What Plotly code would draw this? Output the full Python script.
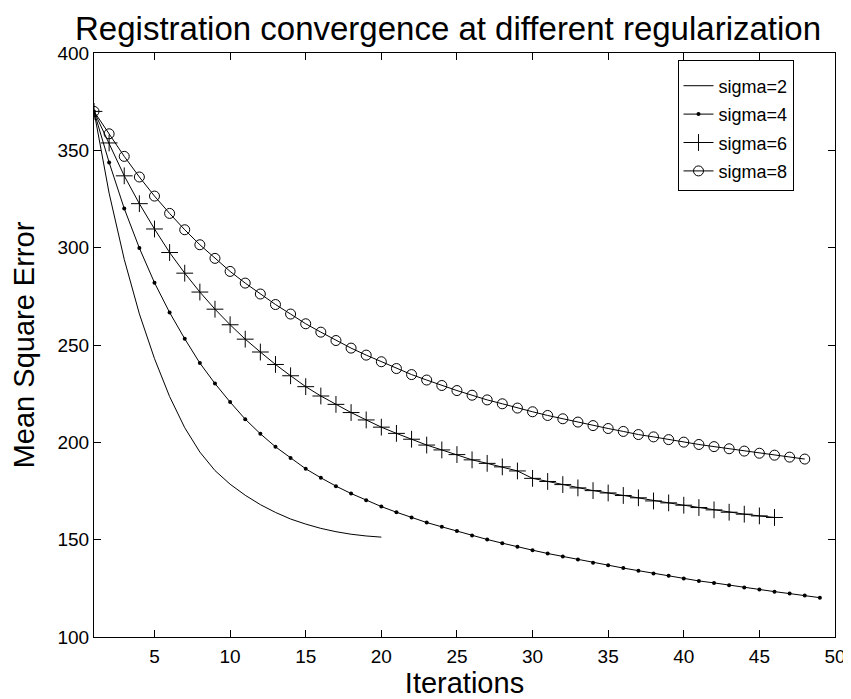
import plotly.graph_objects as go

# ---- data ----
sigma2_y = [370, 328, 294, 266, 243, 223.5, 207.5, 195, 185.5, 178.5, 172.8, 168, 164,
            160.6, 158, 155.8, 154.1, 152.8, 151.9, 151.3]
sigma4_y = [370, 343.8, 320.1, 299.8, 282.0, 266.7, 253.2, 240.7, 230.2, 220.7,
            211.9, 204.4, 197.7, 191.9, 186.4, 181.8, 177.5, 173.7, 170.3, 167.0,
            164.1, 161.4, 158.8, 156.6, 154.4, 152.1, 150.1, 148.2, 146.3, 144.6,
            142.9, 141.3, 139.8, 138.2, 136.9, 135.4, 134.0, 132.6, 131.4, 130.0,
            128.8, 127.8, 126.6, 125.4, 124.4, 123.3, 122.3, 121.3, 120.2]
sigma6_y = [370, 353.8, 336.9, 322.6, 309.6, 297.5, 286.9, 277.2, 268.4, 260.4,
            253.0, 246.4, 240.0, 234.2, 228.6, 223.8, 219.5, 215.3, 211.5, 207.8,
            204.6, 201.6, 198.6, 196.1, 193.7, 191.0, 189.2, 187.4, 185.3, 181.5,
            179.9, 178.3, 176.6, 175.2, 174.0, 172.7, 171.5, 169.9, 168.9, 167.7,
            166.5, 165.3, 164.1, 163.1, 162.2, 161.4]
sigma8_y = [370, 358.5, 346.9, 336.3, 326.5, 317.6, 309.2, 301.5, 294.5, 287.8,
            281.8, 276.2, 270.8, 265.9, 260.9, 256.6, 252.3, 248.4, 244.8, 241.4,
            237.9, 234.8, 232.0, 229.2, 226.6, 224.2, 221.8, 219.8, 217.6, 215.7,
            213.8, 212.1, 210.4, 208.6, 207.1, 205.6, 204.0, 202.8, 201.4, 200.1,
            198.9, 197.8, 196.7, 195.5, 194.4, 193.4, 192.4, 191.4]
series_names = ["sigma=2", "sigma=4", "sigma=6", "sigma=8"]
x_ticks = [5, 10, 15, 20, 25, 30, 35, 40, 45, 50]
y_ticks = [100, 150, 200, 250, 300, 350, 400]

FONT = "Liberation Sans, Arial, Helvetica, sans-serif"

def xs(ys):
    return list(range(1, len(ys) + 1))

fig = go.Figure()
fig.add_trace(go.Scatter(x=xs(sigma2_y), y=sigma2_y, mode="lines", name=series_names[0],
                         legendgroup="a", line=dict(color="black", width=1)))
fig.add_trace(go.Scatter(x=xs(sigma4_y), y=sigma4_y, mode="lines+markers", name=series_names[1],
                         legendgroup="b", line=dict(color="black", width=1),
                         marker=dict(symbol="circle", size=4, color="black")))
fig.add_trace(go.Scatter(x=xs(sigma6_y), y=sigma6_y, mode="lines+markers", name=series_names[2],
                         legendgroup="c", line=dict(color="black", width=1),
                         marker=dict(symbol="cross-thin", size=12, color="black",
                                     line=dict(color="black", width=1))))
fig.add_trace(go.Scatter(x=xs(sigma8_y), y=sigma8_y, mode="lines+markers", name=series_names[3],
                         legendgroup="d", line=dict(color="black", width=1),
                         marker=dict(symbol="circle-open", size=10, color="black",
                                     line=dict(color="black", width=1))))

axis_common = dict(showgrid=False, zeroline=False, showline=True, linecolor="black",
                   linewidth=1, mirror="ticks", ticks="inside", ticklen=7,
                   tickcolor="black", automargin=False,
                   tickfont=dict(family=FONT, size=19, color="black"))

# page has an 8px body margin, so the figure is sized/positioned to compensate
fig.update_layout(
    width=843, height=699,
    margin=dict(l=86, r=16, t=45, b=70),
    paper_bgcolor="white", plot_bgcolor="white",
    title=dict(text="Registration convergence at different regularization",
               font=dict(family=FONT, size=33, color="black"),
               x=0.522, xanchor="center", xref="container",
               y=1 - 20 / 699, yref="container", yanchor="middle"),
    xaxis=dict(range=[1, 50], tickvals=x_ticks, ticklabelstandoff=2, **axis_common,
               title=dict(text="Iterations", font=dict(family=FONT, size=29, color="black"),
                          standoff=4)),
    yaxis=dict(range=[100, 400], tickvals=y_ticks, **axis_common,
               title=dict(text="Mean Square Error", font=dict(family=FONT, size=29, color="black"),
                          standoff=15)),
    legend=dict(x=0.944, y=0.988, xanchor="right", yanchor="top",
                bgcolor="white", bordercolor="black", borderwidth=1,
                font=dict(family=FONT, size=18, color="black"),
                title=dict(text=" ", font=dict(family=FONT, size=5)),
                tracegroupgap=2, itemwidth=30),
    showlegend=True,
)

fig.write_html("out.html")
